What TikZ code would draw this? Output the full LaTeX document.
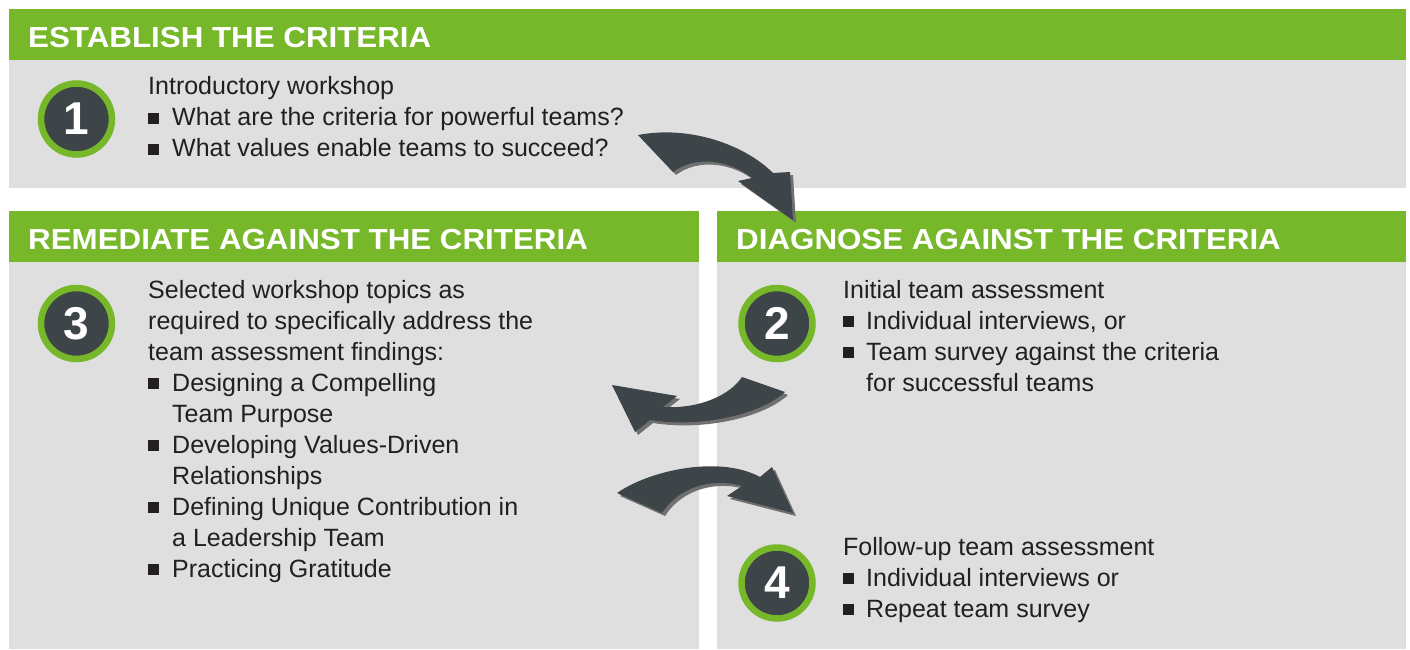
\documentclass[tikz,border=0pt]{standalone}
\usepackage{fontspec}
\setmainfont{Liberation Sans}
\newfontfamily\headfont[FakeStretch=1.08]{Liberation Sans}

\definecolor{hdgreen}{HTML}{76B82A}
\definecolor{panelgray}{HTML}{DFDFDF}
\definecolor{darkslate}{HTML}{3D4548}
\definecolor{txtdark}{HTML}{231F20}
\definecolor{shadowgray}{HTML}{707070}

\tikzset{
  headtxt/.style={anchor=base west, inner sep=0pt, text=white,
    font=\headfont\bfseries\fontsize{29}{34}\selectfont},
  bodytxt/.style={anchor=base west, inner sep=0pt, text=txtdark,
    font=\fontsize{25}{31}\selectfont},
  sqbul/.style={rectangle, fill=txtdark, minimum size=11pt, inner sep=0pt,
    anchor=south west},
  numcircle/.style={circle, fill=darkslate, draw=hdgreen, line width=6.5pt,
    minimum size=71pt, inner sep=0pt, text=white,
    font=\bfseries\fontsize{46}{50}\selectfont},
  arrowshape/.style={fill=darkslate},
  shadowshape/.style={fill=shadowgray, xshift=3pt, yshift=-3pt}
}

\begin{document}
\begin{tikzpicture}[x=1pt,y=-1pt]
  \useasboundingbox (0,0) rectangle (1410,650);

  % panels
  \fill[panelgray] (9,60) rectangle (1406,188);
  \fill[hdgreen] (9,9) rectangle (1406,60);
  \fill[panelgray] (9,262) rectangle (699,649);
  \fill[hdgreen] (9,211) rectangle (699,262);
  \fill[panelgray] (717,262) rectangle (1406,649);
  \fill[hdgreen] (717,211) rectangle (1406,262);

  \node[headtxt] (establish) at (28,48) {ESTABLISH THE CRITERIA};
  \node[headtxt] (remediate) at (28,249) {REMEDIATE AGAINST THE CRITERIA};
  \node[headtxt] (diagnose) at (736,249) {DIAGNOSE AGAINST THE CRITERIA};

  % numbers
  \node[numcircle] (n1) at (76.5,119) {1};
  \node[numcircle] (n3) at (76.5,323.5) {3};
  \node[numcircle] (n2) at (777,323.5) {2};
  \node[numcircle] (n4) at (777,583) {4};

  % step 1
  \foreach \i/\xx/\txt in {0/148/Introductory workshop,
      1/172/What are the criteria for powerful teams?,
      2/172/What values enable teams to succeed?}
    \node[bodytxt] (s1l\i) at (\xx,95+31*\i) {\txt};
  \foreach \i in {1,2}
    \node[sqbul] (s1b\i) at (148,95+31*\i-1.5) {};

  % step 3
  \foreach \i/\xx/\txt in {0/148/Selected workshop topics as,
      1/148/required to specifically address the,
      2/148/team assessment findings:,
      3/172/Designing a Compelling,
      4/172/Team Purpose,
      5/172/Developing Values-Driven,
      6/172/Relationships,
      7/172/Defining Unique Contribution in,
      8/172/a Leadership Team,
      9/172/Practicing Gratitude}
    \node[bodytxt] (s3l\i) at (\xx,298+31*\i) {\txt};
  \foreach \i in {3,5,7,9}
    \node[sqbul] (s3b\i) at (148,298+31*\i-1.5) {};

  % step 2
  \foreach \i/\xx/\txt in {0/843/Initial team assessment,
      1/866/{Individual interviews, or},
      2/866/Team survey against the criteria,
      3/866/for successful teams}
    \node[bodytxt] (s2l\i) at (\xx,298+31*\i) {\txt};
  \foreach \i in {1,2}
    \node[sqbul] (s2b\i) at (843,298+31*\i-1.5) {};

  % step 4
  \foreach \i/\xx/\txt in {0/843/Follow-up team assessment,
      1/866/Individual interviews or,
      2/866/Repeat team survey}
    \node[bodytxt] (s4l\i) at (\xx,555+31*\i) {\txt};
  \foreach \i in {1,2}
    \node[sqbul] (s4b\i) at (843,555+31*\i-1.5) {};

  % curved arrows
  \foreach \sty in {shadowshape,arrowshape} {
    \fill[\sty] (638,135) .. controls (690,125) and (745,145) .. (773,173)
      -- (790,172) -- (793,220) -- (738,181) -- (752,178)
      .. controls (730,160) and (695,155) .. (673,172) -- cycle;
    \fill[\sty] (742,377) -- (785,392)
      .. controls (760,415) and (700,428) .. (650,420)
      -- (635,432) -- (612,385) -- (677,396) -- (663,407)
      .. controls (700,409) and (730,395) .. (742,377) -- cycle;
    \fill[\sty] (617,493) .. controls (650,470) and (720,455) .. (760,477)
      -- (772,467) -- (793,513) -- (727,496) -- (742,486)
      .. controls (715,478) and (680,485) .. (662,513) -- cycle;
  }
\end{tikzpicture}
\end{document}
